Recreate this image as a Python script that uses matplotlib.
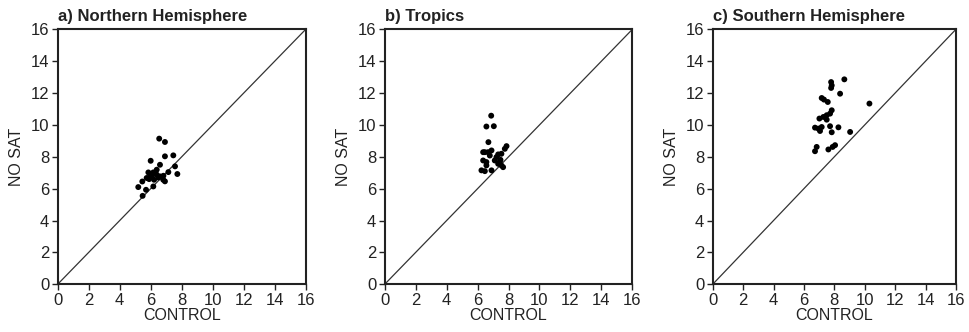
import matplotlib
matplotlib.use("Agg")
import matplotlib.pyplot as plt

plt.rcParams['font.family'] = ['Liberation Sans', 'DejaVu Sans']

titles = ["a) Northern Hemisphere", "b) Tropics", "c) Southern Hemisphere"]
tick_values = [0, 2, 4, 6, 8, 10, 12, 14, 16]

# Northern Hemisphere: control vs no-satellite values
nh_control = [6.55, 6.92, 7.46, 6.92, 6.00, 6.60, 7.57, 7.14, 7.72, 5.85,
              6.17, 6.39, 6.60, 6.82, 6.06, 5.74, 6.22, 6.92, 5.46, 5.20,
              5.70, 6.17, 5.48, 6.39, 5.96, 6.81, 6.30, 6.50, 6.10, 5.90]
nh_nosat = [9.14, 8.93, 8.09, 8.03, 7.75, 7.50, 7.40, 7.04, 6.92, 7.02,
            7.02, 6.88, 6.77, 6.81, 6.77, 6.67, 6.56, 6.46, 6.45, 6.10,
            5.93, 6.14, 5.55, 7.19, 6.88, 6.56, 6.95, 6.70, 6.90, 6.60]

# Tropics
tr_control = [6.88, 6.57, 7.05, 6.70, 6.36, 6.68, 6.90, 6.79, 6.57, 6.57,
              6.36, 7.33, 7.54, 7.76, 7.87, 7.48, 7.33, 7.54, 7.65, 7.43,
              6.25, 6.47, 6.90, 7.22, 7.11, 6.47]
tr_nosat = [10.58, 9.90, 9.92, 8.92, 8.29, 8.29, 8.40, 8.08, 7.67, 7.46,
            7.77, 8.15, 8.19, 8.50, 8.67, 7.81, 7.56, 7.46, 7.35, 7.67,
            7.15, 7.10, 7.15, 7.98, 7.77, 8.29]

# Southern Hemisphere
sh_control = [8.66, 7.79, 7.83, 7.79, 8.38, 10.31, 7.17, 7.32, 7.57, 7.83,
              7.72, 7.50, 7.28, 7.50, 7.02, 6.73, 6.95, 7.17, 7.06, 7.72,
              8.27, 7.83, 9.04, 6.84, 6.73, 7.61, 7.89, 8.05]
sh_nosat = [12.86, 12.69, 12.48, 12.32, 11.96, 11.34, 11.69, 11.59, 11.44, 10.92,
            10.71, 10.61, 10.50, 10.33, 10.40, 9.83, 9.77, 9.87, 9.62, 9.92,
            9.85, 9.54, 9.56, 8.62, 8.35, 8.46, 8.62, 8.73]

panels = [(nh_control, nh_nosat), (tr_control, tr_nosat), (sh_control, sh_nosat)]

fig = plt.figure(figsize=(9.69, 3.32), dpi=100)
lefts = [0.0595, 0.397, 0.7355]
widths = [0.256, 0.2556, 0.251]

for title, (cx, ny), left, w in zip(titles, panels, lefts, widths):
    ax = fig.add_axes([left, 0.1437, w, 0.768])
    ax.plot([0, 16], [0, 16], color='#333333', lw=0.9)
    ax.scatter(cx, ny, s=18, color='black', edgecolors='none', zorder=3)
    ax.set_xlim(0, 16)
    ax.set_ylim(0, 16)
    ax.set_xticks(tick_values)
    ax.set_yticks(tick_values)
    ax.tick_params(direction='out', length=4, width=1, labelsize=12,
                   pad=2, colors='#222222')
    for sp in ax.spines.values():
        sp.set_linewidth(1.5)
        sp.set_color('#222222')
    ax.set_xlabel("CONTROL", fontsize=11.5, labelpad=0, color='#222222')
    ax.set_ylabel("NO SAT", fontsize=11.5, labelpad=5, color='#222222')
    ax.set_title(title, loc='left', fontsize=12, fontweight='bold', pad=6,
                 color='#222222')

fig.savefig("out.png", dpi=100)
